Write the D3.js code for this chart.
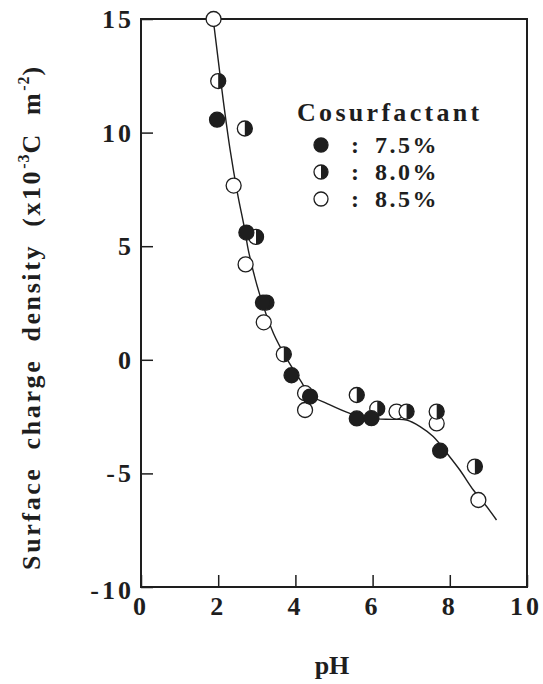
<!DOCTYPE html>
<html><head><meta charset="utf-8">
<script src="https://cdn.jsdelivr.net/npm/d3@7"></script>
<style>body{margin:0;background:#fff}</style>
</head><body>
<svg id="c" width="543" height="684" xmlns="http://www.w3.org/2000/svg"></svg>
<script>
const xTicks=[0,2,4,6,8,10];
const yTicks=[15,10,5,0,-5,-10];
const ph75=[1.97,2.73,3.16,3.90,4.38,5.59,5.97,7.75];
const sd75=[10.57,5.6,2.52,-0.68,-1.62,-2.58,-2.57,-4.0];
const ph80=[2.0,2.69,2.98,3.25,3.70,5.59,6.12,6.88,7.66,8.65];
const sd80=[12.27,10.18,5.41,2.52,0.24,-1.55,-2.15,-2.28,-2.28,-4.7];
const ph85=[1.88,2.40,2.71,3.18,4.25,4.25,6.62,7.66,8.74];
const sd85=[15.0,7.67,4.2,1.65,-1.47,-2.21,-2.28,-2.80,-6.17];
const fitPh=[1.87,2.0,2.13,2.31,2.50,2.69,2.78,3.07,3.43,3.79,4.15,4.38,4.81,5.41,5.93,6.54,6.88,7.23,7.57,7.92,8.26,8.61,8.96,9.21];
const fitSd=[15.0,13.2,11.43,9.23,7.33,5.71,4.83,2.9,1.17,0.01,-0.96,-1.55,-1.92,-2.36,-2.58,-2.62,-2.65,-2.94,-3.38,-4.1,-4.85,-5.73,-6.47,-7.05];
const legendLabels=["7.5%","8.0%","8.5%"];

const ink="#1e1e1e";
const svg=d3.select("#c");
const x=d3.scaleLinear().domain([0,10]).range([141,527]);
const y=d3.scaleLinear().domain([-10,15]).range([587,19]);
const font="'Liberation Serif','Times New Roman',serif";

// ticks
svg.append("g").attr("transform",`translate(0,${y(-10)})`)
  .call(d3.axisBottom(x).tickValues(xTicks).tickSize(-12).tickFormat(""))
  .call(g=>{g.select(".domain").remove();g.selectAll("line").attr("stroke",ink).attr("stroke-width",1.5);});
svg.append("g").attr("transform",`translate(${x(0)},0)`)
  .call(d3.axisLeft(y).tickValues(yTicks).tickSize(-12).tickFormat(""))
  .call(g=>{g.select(".domain").remove();g.selectAll("line").attr("stroke",ink).attr("stroke-width",1.5);});

// frame
svg.append("rect").attr("x",x(0)).attr("y",y(15)).attr("width",x(10)-x(0)).attr("height",y(-10)-y(15))
  .attr("fill","none").attr("stroke",ink).attr("stroke-width",2);

// tick labels
svg.append("g").selectAll("text").data(xTicks).join("text")
  .attr("x",d=>x(d)+(d===10?-1:0)).attr("y",y(-10)+28).attr("text-anchor","middle")
  .attr("font-family",font).attr("font-weight","bold").attr("font-size",26).attr("letter-spacing",3)
  .attr("fill",ink).text(d=>d);
svg.append("g").selectAll("text").data(yTicks).join("text")
  .attr("x",x(0)-7).attr("y",d=>y(d)+(d===-10?12:9)).attr("text-anchor","end")
  .attr("font-family",font).attr("font-weight","bold").attr("font-size",26).attr("letter-spacing",3)
  .attr("fill",ink).text(d=>d<0?"-"+Math.abs(d):d);

// axis titles
svg.append("text").attr("x",332).attr("y",674).attr("text-anchor","middle")
  .attr("font-family",font).attr("font-weight","bold").attr("font-size",26).attr("fill",ink).text("pH");
const yt=svg.append("text").attr("transform","translate(40,317) rotate(-90)").attr("text-anchor","middle")
  .attr("font-family",font).attr("font-weight","bold").attr("font-size",26).attr("letter-spacing",2.6)
  .attr("word-spacing",8).attr("fill",ink);
yt.append("tspan").text("Surface charge density (x10");
yt.append("tspan").attr("dy",-11).attr("font-size",16).attr("letter-spacing",1).text("-3");
yt.append("tspan").attr("dy",11).text("C m");
yt.append("tspan").attr("dy",-11).attr("font-size",16).attr("letter-spacing",1).text("-2");
yt.append("tspan").attr("dy",11).text(")");

// fitted curve
const line=d3.line().x(d=>x(d[0])).y(d=>y(d[1])).curve(d3.curveCatmullRom.alpha(0.5));
svg.append("path").datum(fitPh.map((p,i)=>[p,fitSd[i]])).attr("d",line)
  .attr("fill","none").attr("stroke",ink).attr("stroke-width",1.4);

// markers
const R=7.5;
function marker(g,cx,cy,type,r){
  if(type==="filled"){
    g.append("circle").attr("cx",cx).attr("cy",cy).attr("r",r).attr("fill",ink).attr("stroke",ink).attr("stroke-width",1.3);
  } else {
    g.append("circle").attr("cx",cx).attr("cy",cy).attr("r",r).attr("fill","#fff").attr("stroke",ink).attr("stroke-width",1.3);
    if(type==="half"){
      const arc=d3.arc().innerRadius(0).outerRadius(r).startAngle(0).endAngle(Math.PI);
      g.append("path").attr("transform",`translate(${cx},${cy})`).attr("d",arc()).attr("fill",ink);
    }
  }
}
const gm=svg.append("g");
ph85.forEach((p,i)=>marker(gm,x(p),y(sd85[i]),"open",R));
ph80.forEach((p,i)=>marker(gm,x(p),y(sd80[i]),"half",R));
ph75.forEach((p,i)=>marker(gm,x(p),y(sd75[i]),"filled",R));

// legend
const lg=svg.append("g");
lg.append("text").attr("x",297).attr("y",121).attr("font-family",font).attr("font-weight","bold")
  .attr("font-size",26).attr("letter-spacing",3.3).attr("fill",ink).text("Cosurfactant");
const types=["filled","half","open"];
const rowY=[145,172,199];
legendLabels.forEach((t,i)=>{
  marker(lg,321,rowY[i],types[i],7);
  lg.append("text").attr("x",355).attr("y",rowY[i]+8).attr("text-anchor","middle").attr("font-family",font)
    .attr("font-weight","bold").attr("font-size",24).attr("fill",ink).text(":");
  lg.append("text").attr("x",375).attr("y",rowY[i]+8).attr("font-family",font)
    .attr("font-weight","bold").attr("font-size",24).attr("letter-spacing",2.5).attr("fill",ink).text(t);
});
</script>
</body></html>
